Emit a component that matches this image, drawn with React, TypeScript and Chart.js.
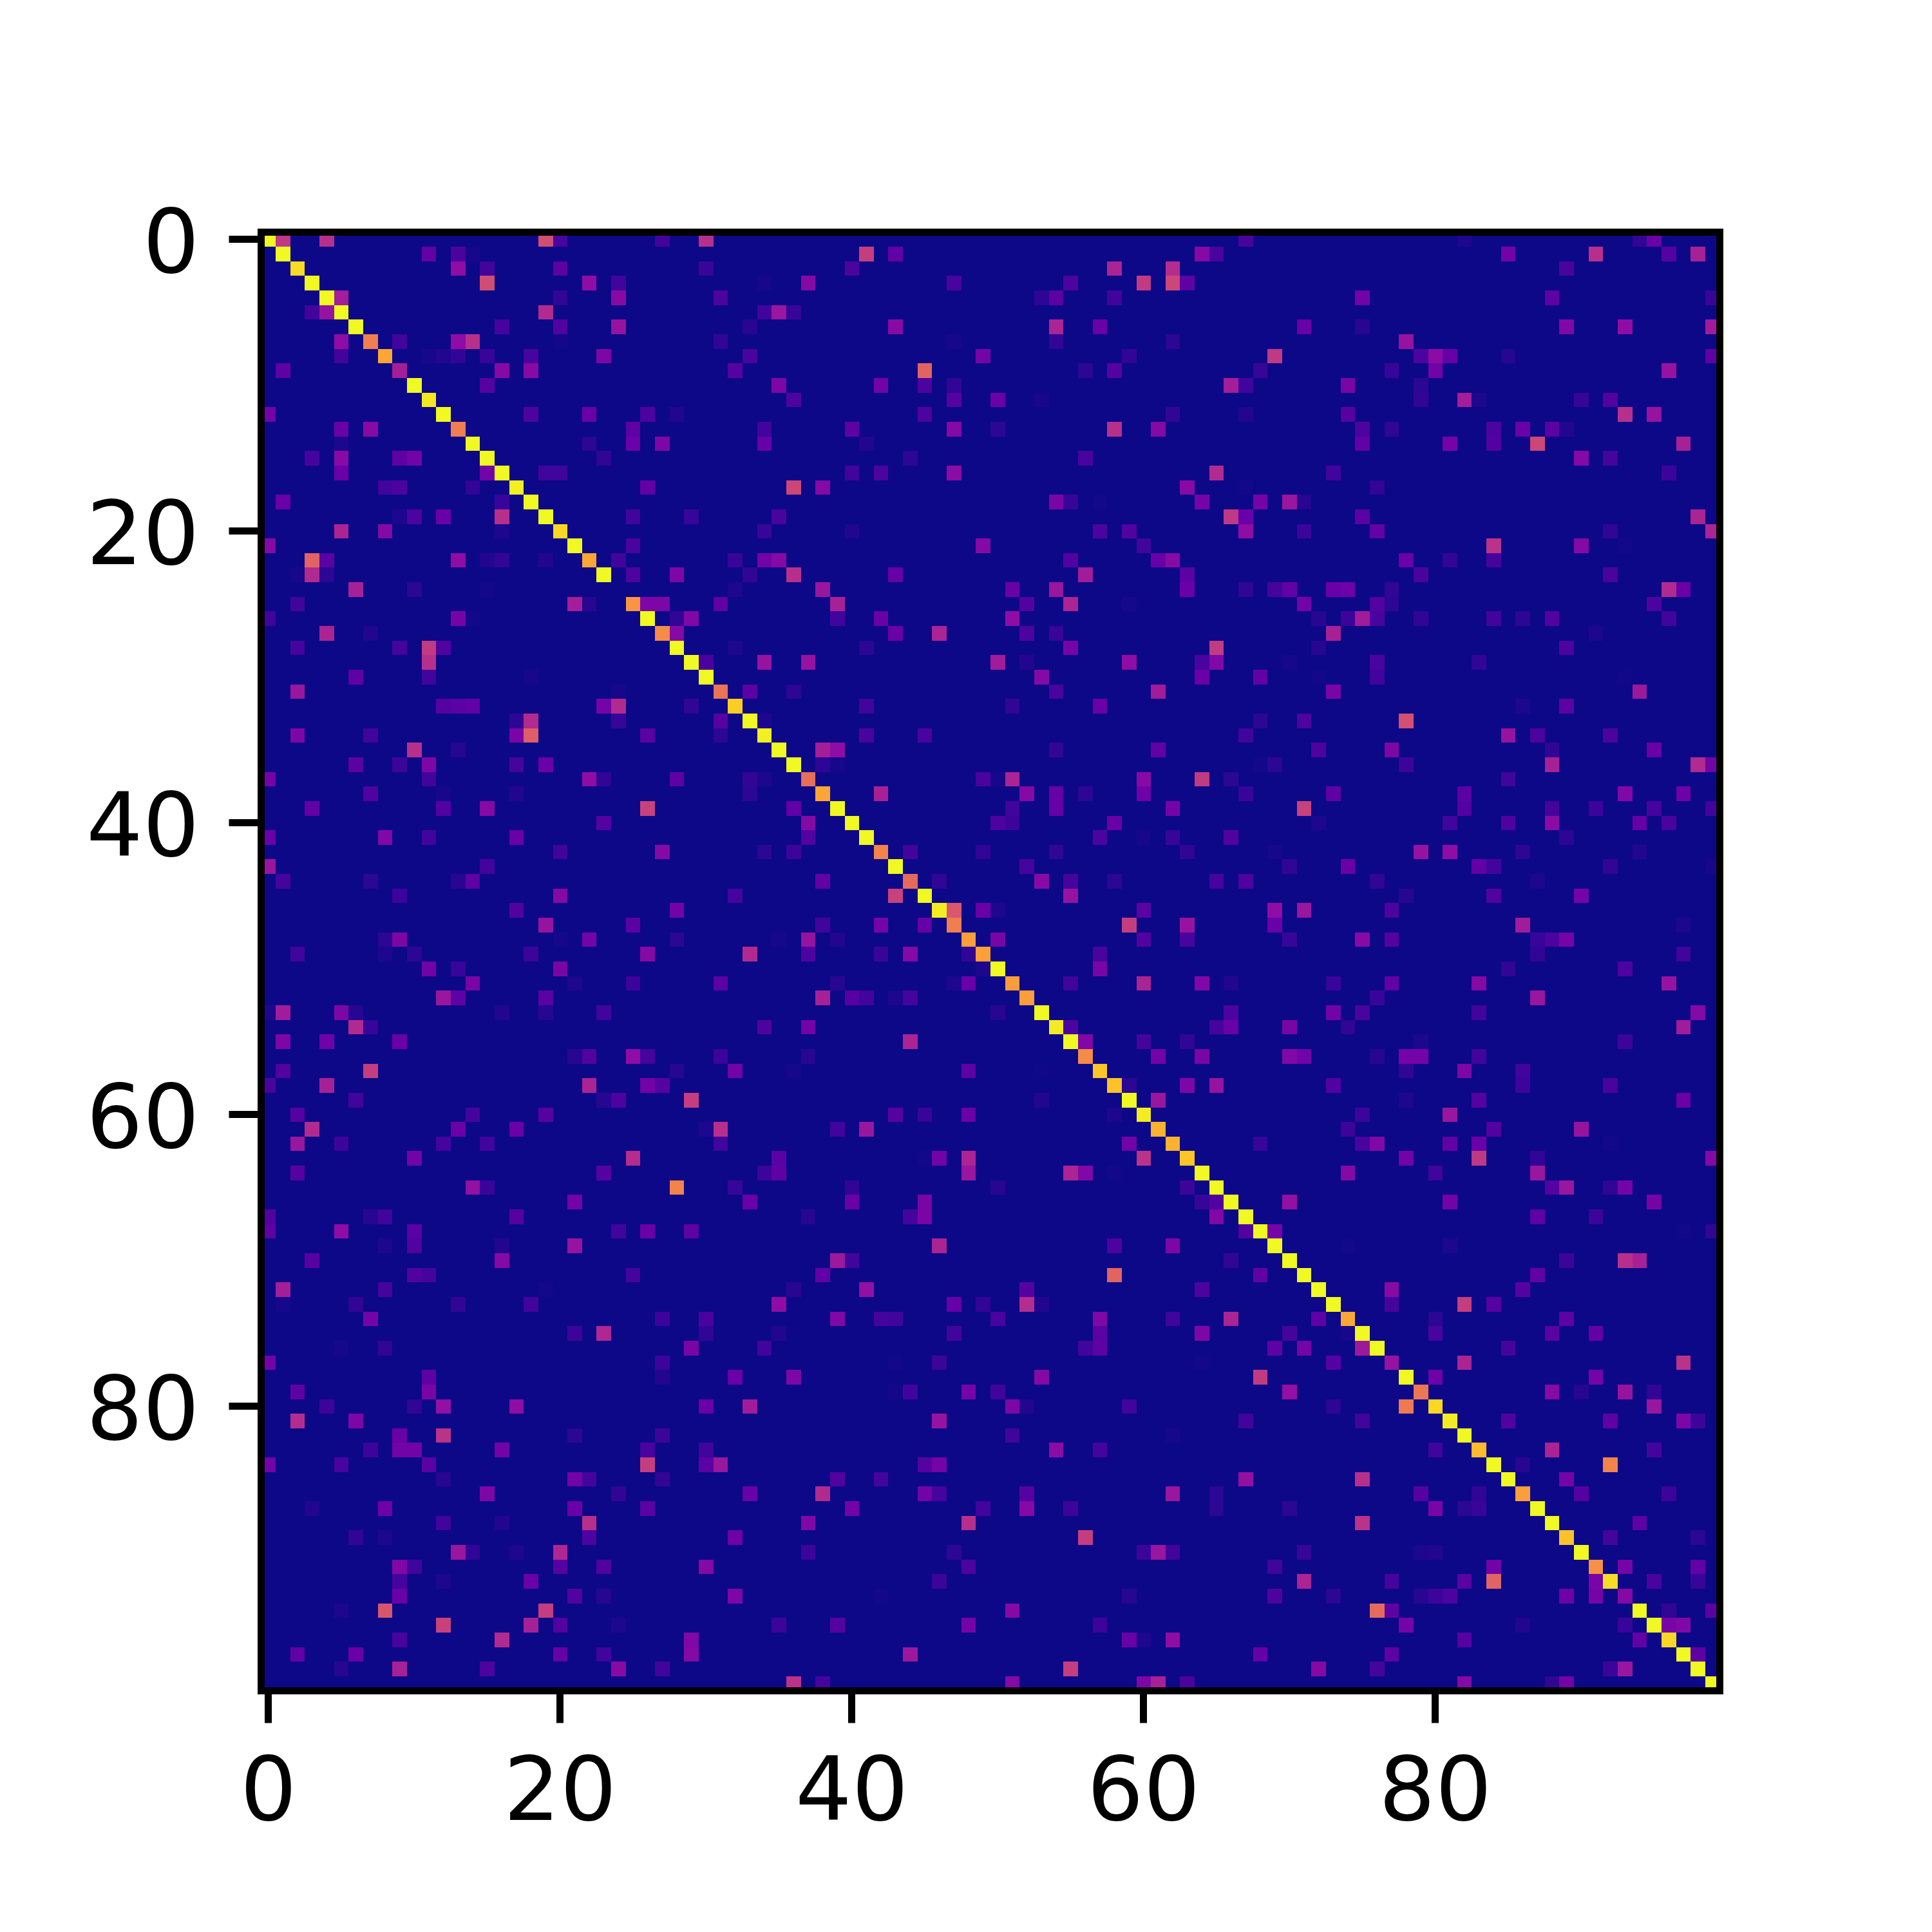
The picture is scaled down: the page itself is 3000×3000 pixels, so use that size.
import React, { useEffect, useRef } from "react";
import { Chart, registerables, ScatterController, PointElement } from "chart.js";

Chart.register(...registerables);

const tickValues = [0, 20, 40, 60, 80];
const diagonal = [
  1, 1, .93, 1, 1, 1, 1, .68, .8, .36,
  1, .96, 1, .68, 1, 1, 1, .98, 1, 1,
  .92, 1, .8, 1, 0, .75, 1, .72, 1, 1,
  1, .65, .9, 1, .98, 1, 1, .63, .8, 1,
  1, 1, .7, 1, .62, 1, .97, .68, .78, .78,
  1, .77, .78, 1, .97, 1, .72, .88, .87, 1,
  .97, .83, .83, .88, 1, 1, 1, 1, 1, 1,
  1, 1, 1, 1, .8, 1, 1, .32, 1, .66,
  .92, .97, 1, .85, 1, 1, .78, 1, 1, .87,
  1, .74, .93, .27, 1, 1, .92, 1, 1, 1,
];
// per row: column, value, column, value, ...
const offDiagonal: number[][] = [
  [1,.45,4,.42,19,.52,20,.12,27,.1,30,.42,67,.12,82,.03,94,.07,95,.2],
  [11,.18,13,.12,14,.02,41,.47,43,.18,64,.27,65,.12,85,.22,91,.42,96,.15,98,.37],
  [13,.3,15,.1,20,.16,30,.08,40,.13,58,.38,62,.41,89,.12],
  [15,.52,22,.3,24,.1,34,.02,37,.27,47,.12,55,.13,60,.46,62,.5,63,.17],
  [5,.36,20,.07,24,.28,31,.13,53,.06,54,.16,58,.1,75,.22,88,.17,99,.08],
  [3,.1,4,.32,19,.4,34,.1,35,.33,36,.08],
  [16,.11,20,.14,24,.32,33,.05,43,.28,54,.38,57,.2,71,.2,75,.05,89,.26,93,.3,99,.35],
  [5,.3,9,.1,13,.3,14,.42,20,.01,31,.07,47,.02,54,.07,62,.06,78,.32],
  [5,.1,11,.02,12,.04,13,.07,15,.08,18,.12,23,.25,33,.12,49,.23,59,.07,69,.45,79,.13,80,.29,81,.19,85,.05,99,.17],
  [1,.17,16,.27,18,.28,32,.15,45,.6,56,.06,58,.15,68,.08,77,.08,80,.22,96,.32],
  [15,.15,35,.25,42,.22,45,.13,47,.07,66,.36,67,.1,74,.24,79,.06],
  [36,.13,47,.15,50,.2,53,.02,79,.07,82,.36,83,.03,90,.08,92,.14],
  [0,.22,18,.13,22,.2,26,.13,28,.04,45,.13,62,.07,67,.04,74,.15,93,.42,95,.32],
  [5,.2,7,.28,25,.17,34,.1,40,.17,47,.27,50,.06,58,.42,61,.27,75,.13,77,.07,84,.13,86,.2,88,.16,89,.04],
  [5,.03,22,.06,25,.2,27,.25,34,.19,41,.04,75,.18,81,.23,84,.14,87,.5,97,.37],
  [3,.11,5,.28,9,.17,10,.22,23,.07,44,.06,56,.12,90,.27,92,.11],
  [5,.2,15,.22,19,.1,20,.1,40,.1,42,.13,47,.29,65,.4,73,.1,96,.09],
  [8,.1,9,.13,14,.07,26,.18,36,.5,38,.27,63,.28,67,.01,76,.07],
  [1,.2,16,.08,54,.24,55,.08,57,.01,64,.23,68,.23,70,.33,71,.05],
  [9,.03,10,.13,12,.2,16,.42,25,.1,29,.08,35,.12,66,.45,67,.2,75,.16,98,.38],
  [5,.38,8,.27,16,.03,34,.08,40,.04,57,.13,59,.14,67,.3,71,.09,76,.18,92,.07,99,.38],
  [0,.27,25,.12,49,.27,60,.1,84,.43,90,.27,93,.01],
  [3,.6,4,.16,13,.3,15,.04,16,.07,19,.04,24,.1,32,.08,34,.22,35,.27,55,.14,61,.19,62,.28,78,.2,81,.07,84,.11],
  [2,.02,3,.4,4,.06,25,.13,28,.25,33,.07,36,.42,43,.19,56,.35,63,.16,79,.12,92,.12],
  [6,.37,10,.06,15,.01,32,.03,38,.33,51,.2,54,.33,63,.2,67,.07,69,.11,70,.18,73,.2,74,.21,77,.07,96,.4,97,.2],
  [2,.1,21,.36,22,.05,26,.25,27,.25,31,.17,39,.37,52,.14,55,.38,59,.02,71,.22,76,.14,77,.06,95,.13],
  [0,.1,13,.23,14,.01,28,.07,29,.26,39,.1,42,.2,51,.3,72,.05,74,.09,75,.35,76,.12,79,.07,84,.1,86,.06,88,.14,96,.1],
  [4,.38,7,.04,28,.27,43,.2,46,.38,52,.13,54,.08,73,.37,91,.03],
  [2,.11,9,.11,11,.46,12,.14,32,.03,41,.06,55,.23,65,.46,72,.05,89,.13],
  [11,.42,30,.12,34,.32,37,.32,50,.35,52,.04,59,.3,64,.12,65,.26,70,.02,76,.12,83,.07],
  [6,.17,11,.1,18,.02,53,.27,64,.2,68,.18,72,.01,76,.1,93,.005],
  [2,.33,24,.02,33,.16,36,.06,54,.12,61,.35,73,.24,94,.34],
  [12,.15,13,.16,14,.18,23,.23,24,.4,29,.07,41,.1,51,.07,57,.2,86,.03,89,.16],
  [17,.06,18,.4,24,.08,31,.15,34,.03,68,.06,71,.13,78,.53],
  [2,.25,7,.1,17,.24,18,.58,26,.16,31,.06,41,.12,45,.12,67,.1,85,.32,87,.13,92,.13],
  [10,.42,13,.05,38,.36,39,.3,54,.07,61,.18,72,.13,77,.25,88,.07,95,.2],
  [6,.16,9,.09,11,.25,17,.11,19,.2,38,.06,39,.02,68,.01,69,.06,78,.09,88,.37,98,.4,99,.22],
  [0,.23,11,.1,22,.3,23,.07,28,.17,33,.07,34,.03,49,.12,50,.02,51,.38,60,.28,64,.46,66,.06,85,.1],
  [7,.14,12,.02,17,.04,33,.06,42,.37,52,.27,54,.19,56,.06,60,.21,67,.08,73,.17,82,.16,93,.26,97,.21],
  [3,.18,12,.14,15,.27,26,.48,36,.18,51,.1,54,.19,62,.23,71,.48,82,.14,88,.11,91,.09,95,.11,99,.1],
  [23,.15,37,.27,50,.13,51,.09,58,.2,72,.03,81,.1,85,.13,88,.29,94,.19,96,.12],
  [0,.2,8,.26,11,.1,17,.2,37,.14,57,.13,60,.02,62,.08,66,.14,89,.06],
  [20,.1,27,.27,34,.06,36,.09,44,.1,49,.07,54,.07,63,.07,69,.02,79,.32,81,.3,86,.06,94,.04],
  [0,.33,15,.1,52,.11,70,.07,74,.2,83,.18,84,.1,92,.07,99,.02],
  [1,.11,7,.06,13,.05,14,.17,38,.18,46,.07,53,.28,55,.11,58,.06,65,.11,67,.13,76,.07,87,.03],
  [9,.09,20,.27,32,.11,43,.48,55,.32,78,.05,84,.14,90,.23],
  [17,.14,28,.22,47,.56,49,.2,50,.03,60,.16,69,.3,71,.33,77,.13],
  [19,.32,25,.16,38,.1,42,.23,45,.19,59,.47,63,.32,69,.2,86,.35,97,.03],
  [8,.06,9,.25,20,.02,22,.23,28,.06,35,.02,37,.32,39,.04,50,.24,60,.14,63,.12,70,.08,75,.28,77,.15,87,.08,88,.13,89,.23],
  [2,.1,8,.03,10,.06,18,.09,26,.27,33,.4,37,.13,42,.08,44,.27,48,.07,57,.12,87,.07,97,.1],
  [11,.22,13,.08,20,.24,49,.03,57,.24,85,.07,93,.13],
  [14,.24,21,.03,25,.09,31,.16,39,.05,47,.03,48,.2,55,.1,60,.38,64,.26,66,.04,73,.08,77,.18,83,.27,96,.32],
  [12,.33,13,.17,19,.16,38,.37,40,.15,41,.1,43,.03,44,.11,76,.08,87,.33],
  [0,.03,1,.35,5,.25,6,.05,16,.04,19,.05,23,.1,50,.05,66,.13,73,.22,75,.12,83,.1,98,.27],
  [6,.4,7,.08,34,.13,37,.22,55,.13,65,.11,66,.2,70,.24,74,.07,97,.35],
  [1,.25,4,.21,9,.2,44,.38,56,.26,60,.11,63,.07,79,.03,93,.09],
  [21,.05,22,.14,25,.3,26,.11,31,.09,37,.05,61,.22,64,.24,70,.26,71,.22,76,.05,78,.23,79,.23,83,.1],
  [1,.14,7,.47,28,.05,32,.22,36,.02,48,.17,53,.005,78,.07,82,.25,86,.1],
  [0,.12,4,.37,22,.38,26,.22,27,.15,59,.06,63,.25,65,.32,73,.14,86,.09,92,.12],
  [6,.1,23,.05,24,.13,29,.47,53,.04,61,.33,78,.03,83,.15,97,.2],
  [2,.15,14,.11,19,.15,43,.15,45,.08,48,.2,58,.03,75,.09,81,.33],
  [3,.4,13,.2,17,.2,30,.03,31,.42,39,.1,41,.33,74,.09,84,.14,90,.32],
  [2,.33,5,.09,12,.11,15,.1,31,.1,59,.22,68,.08,75,.12,76,.26,81,.18,83,.2,92,.01],
  [10,.22,25,.41,35,.16,45,.01,46,.22,48,.38,60,.43,78,.22,83,.45,87,.07,99,.27],
  [2,.15,23,.15,34,.09,35,.17,48,.33,55,.38,56,.26,58,.01,74,.27,80,.1,87,.33],
  [14,.31,15,.08,28,.7,32,.08,40,.07,50,.05,63,.09,88,.15,89,.33,92,.07,93,.23],
  [21,.22,33,.2,40,.2,45,.24,64,.08,65,.14,70,.31,81,.22,95,.23],
  [0,.14,7,.05,8,.1,17,.15,37,.05,44,.11,45,.24,65,.26,87,.17,91,.09],
  [0,.17,5,.3,10,.16,24,.1,26,.2,29,.17,67,.14,69,.23,97,.01,99,.07],
  [8,.03,10,.14,16,.04,21,.32,46,.38,58,.13,62,.25,74,.01,81,.03],
  [3,.15,16,.27,39,.34,40,.1,66,.07,89,.09,93,.42,94,.37],
  [10,.14,11,.11,25,.11,38,.18,58,.6,68,.18,87,.18],
  [1,.36,8,.11,19,.01,36,.05,41,.31,52,.15,64,.13,77,.28,86,.15],
  [1,.02,6,.07,13,.07,18,.1,35,.3,47,.19,49,.07,52,.41,53,.04,77,.11,82,.47,84,.15],
  [7,.23,27,.09,30,.12,39,.26,42,.11,43,.1,50,.12,57,.26,62,.1,66,.38,72,.17,80,.06,89,.17],
  [21,.09,23,.39,30,.07,35,.04,47,.1,57,.16,64,.25,70,.11,74,.02,80,.12,88,.16,91,.18],
  [5,.02,8,.07,29,.24,34,.1,56,.1,57,.17,69,.17,71,.23,75,.34,85,.11],
  [0,.22,27,.09,43,.01,46,.09,64,.01,73,.15,82,.38,97,.43],
  [11,.17,27,.04,32,.2,36,.25,53,.27,68,.46,80,.21,91,.23],
  [2,.17,11,.24,43,.01,44,.1,48,.23,50,.1,70,.31,88,.28,90,.05,93,.32,95,.07],
  [4,.09,10,.07,12,.31,17,.3,30,.2,33,.35,51,.25,52,.04,59,.1,73,.06,78,.67,95,.33],
  [2,.41,6,.25,46,.32,67,.1,75,.1,85,.14,92,.17,97,.25,98,.09],
  [9,.2,12,.43,21,.06,27,.09,51,.1,62,.02],
  [7,.09,9,.22,10,.22,16,.22,26,.12,30,.1,54,.29,57,.11,80,.1,88,.38,95,.11],
  [0,.22,5,.12,11,.16,26,.47,30,.16,31,.33,45,.15,46,.23,86,.05,92,.7],
  [12,.05,21,.22,22,.11,27,.07,39,.14,42,.11,67,.31,75,.42,89,.23],
  [15,.25,24,.07,33,.2,38,.4,45,.22,46,.11,52,.15,62,.33,65,.06,79,.15,83,.07,90,.15,96,.09],
  [3,.04,8,.21,21,.2,26,.16,40,.22,49,.1,52,.27,55,.09,65,.06,70,.06,80,.24,82,.06,83,.08],
  [12,.1,16,.04,22,.42,37,.26,48,.42,75,.43,94,.17],
  [6,.07,8,.03,22,.13,32,.21,56,.47,92,.11,98,.06],
  [13,.33,14,.07,17,.03,20,.39,37,.09,47,.06,60,.09,61,.33,62,.1,71,.08,79,.03,80,.04],
  [9,.26,10,.1,20,.15,23,.14,30,.27,48,.13,69,.1,84,.22,93,.23,98,.18],
  [9,.11,12,.03,18,.2,46,.09,71,.38,77,.11,82,.16,84,.6,91,.24,95,.12,98,.08],
  [9,.2,21,.14,23,.05,32,.25,42,.01,59,.05,69,.13,73,.06,79,.05,80,.09,81,.13,89,.21,91,.23],
  [5,.03,8,.55,19,.47,51,.27,76,.62,77,.17,96,.07,99,.16],
  [12,.48,18,.37,20,.14,24,.03,35,.09,39,.15,48,.23,57,.09,78,.23,86,.04,93,.08,96,.24,97,.26],
  [9,.12,16,.4,29,.26,59,.2,60,.03,62,.3,82,.15,94,.18],
  [2,.18,6,.2,20,.19,23,.1,29,.27,44,.34,68,.19,77,.17,98,.17],
  [5,.05,9,.37,15,.13,24,.28,27,.1,55,.47,72,.27,76,.11,92,.09,93,.33],
  [36,.43,38,.11,51,.27,60,.25,61,.37,63,.12,82,.27,88,.07,89,.22],
];

const plasmaStops = [
  [13, 8, 135], [65, 4, 157], [106, 0, 168], [143, 13, 164], [177, 42, 144], [204, 71, 120],
  [225, 100, 98], [242, 132, 75], [252, 166, 54], [252, 206, 37], [240, 249, 33],
];

function plasma(v: number): string {
  const p = Math.min(Math.max(v, 0), 1) * (plasmaStops.length - 1);
  const i = Math.min(Math.floor(p), plasmaStops.length - 2);
  const t = p - i;
  const c = plasmaStops[i].map((a, k) => Math.round(a + (plasmaStops[i + 1][k] - a) * t));
  return `rgb(${c[0]},${c[1]},${c[2]})`;
}

function buildCells() {
  const cells: { x: number; y: number; v: number }[] = [];
  offDiagonal.forEach((row, y) => {
    for (let k = 0; k < row.length; k += 2) cells.push({ x: row[k], y, v: row[k + 1] });
  });
  diagonal.forEach((v, i) => cells.push({ x: i, y: i, v }));
  return cells;
}

class CellElement extends PointElement {
  static id = "cell";
  static defaults = { ...PointElement.defaults, radius: 0, hitRadius: 0, hoverRadius: 0 };
  draw(ctx: CanvasRenderingContext2D) {
    const raw = (this as any).$context?.raw;
    if (!raw) return;
    const xs = (this as any).$xScale;
    const ys = (this as any).$yScale;
    const x0 = Math.round(xs.getPixelForValue(raw.x - 0.5));
    const x1 = Math.round(xs.getPixelForValue(raw.x + 0.5));
    const y0 = Math.round(ys.getPixelForValue(raw.y - 0.5));
    const y1 = Math.round(ys.getPixelForValue(raw.y + 0.5));
    ctx.fillStyle = (this as any).options.backgroundColor;
    ctx.fillRect(x0, y0, x1 - x0, y1 - y0);
  }
}

class HeatController extends ScatterController {
  static id = "heat";
  static defaults = { ...ScatterController.defaults, dataElementType: "cell" };
  static overrides = ScatterController.overrides;
  updateElements(points: any[], start: number, count: number, mode: any) {
    super.updateElements(points, start, count, mode);
    const meta = (this as any)._cachedMeta;
    for (let i = start; i < start + count; i++) {
      points[i].$xScale = meta.xScale;
      points[i].$yScale = meta.yScale;
    }
  }
}

Chart.register(CellElement as any, HeatController as any);

const FONT = { family: "'DejaVu Sans'", size: 138 };
const Y_LABEL_SHIFT = 15;

export default function App() {
  const ref = useRef<HTMLCanvasElement | null>(null);
  useEffect(() => {
    if (!ref.current) return;
    const fitScale = (prop: "width" | "height", size: number) => (s: any) => {
      s[prop] = size;
      s.paddingLeft = s.paddingRight = s.paddingTop = s.paddingBottom = 0;
    };
    const setTicks = (s: any) => {
      s.ticks = tickValues.map((value) => ({ value }));
    };
    const axis = (position: string, reverse: boolean, fit: (s: any) => void) => ({
      type: "linear",
      position,
      reverse,
      min: -0.5,
      max: 99.5,
      afterBuildTicks: setTicks,
      afterFit: fit,
      border: { display: false },
      grid: { drawOnChartArea: false, drawTicks: true, tickLength: 50, tickWidth: 11, tickColor: "#000", color: "#000" },
      ticks: {
        color: "#000",
        font: FONT,
        padding: position === "bottom" ? 32 : 46,
        autoSkip: false,
        maxRotation: 0,
        minRotation: 0,
        includeBounds: false,
        callback: (v: any) => String(v),
      },
    });
    const frame = {
      id: "frame",
      beforeDraw(chart: any) {
        const items = chart.scales.y.getLabelItems(chart.chartArea);
        items.forEach((item: any) => {
          if (item.shifted) return;
          item.shifted = true;
          item.options.translation = [item.options.translation[0], item.options.translation[1] + Y_LABEL_SHIFT];
        });
      },
      beforeDatasetsDraw(chart: any) {
        const { ctx, chartArea: a } = chart;
        ctx.save();
        ctx.fillStyle = plasma(0);
        ctx.fillRect(a.left, a.top, a.width, a.height);
        ctx.restore();
      },
      afterDraw(chart: any) {
        const { ctx, chartArea: a } = chart;
        ctx.save();
        ctx.strokeStyle = "#000";
        ctx.lineWidth = 11;
        ctx.strokeRect(a.left, a.top, a.width, a.height);
        ctx.restore();
      },
    };
    const chart = new Chart(ref.current, {
      type: "heat" as any,
      data: {
        datasets: [
          {
            data: buildCells(),
            backgroundColor: (c: any) => plasma(c.raw ? c.raw.v : 0),
          } as any,
        ],
      },
      options: {
        animation: false,
        responsive: false,
        devicePixelRatio: 1,
        events: [],
        layout: { padding: { left: 0, top: 360.5, right: 329.5, bottom: 0 } },
        plugins: { legend: { display: false }, title: { display: false }, tooltip: { enabled: false } },
        scales: {
          x: axis("bottom", false, fitScale("height", 374.5)),
          y: axis("left", true, fitScale("width", 405.5)),
        },
      } as any,
      plugins: [frame],
    });
    return () => chart.destroy();
  }, []);
  return (
    <canvas
      ref={ref}
      width={3000}
      height={3000}
      style={{ position: "absolute", left: 0, top: 0, width: 3000, height: 3000, display: "block" }}
    />
  );
}
